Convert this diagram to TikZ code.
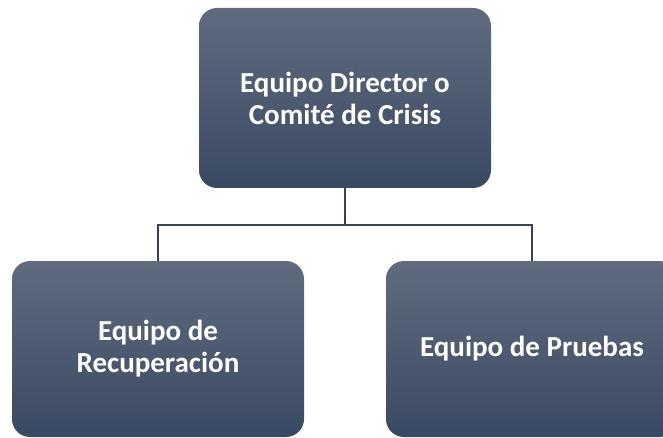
\documentclass[tikz,border=0pt]{standalone}
\usepackage{fontspec}
\setmainfont{Carlito}
\definecolor{boxtop}{RGB}{96,107,126}
\definecolor{boxbot}{RGB}{58,73,99}
\definecolor{linecol}{RGB}{55,66,86}
\begin{document}
\begin{tikzpicture}[x=1pt,y=-1pt,
    team/.style={rounded corners=18pt, top color=boxtop, bottom color=boxbot,
      draw=none, inner sep=0pt, minimum width=292pt, align=center,
      text=white, font=\fontsize{29}{32}\selectfont\bfseries},
    link/.style={draw=linecol, line width=1.2pt}]
    \useasboundingbox (0,0) rectangle (663,438);
    \clip (0,0) rectangle (663,438);
    \node[team, minimum height=180pt] (m) at (345,98) {Equipo Director o\\Comité de Crisis};
    \node[team, minimum height=176pt] (l) at (158,349) {Equipo de\\Recuperación};
    \node[team, minimum height=176pt] (r) at (532,349) {Equipo de Pruebas};
    \coordinate (j) at (345,225);

    \draw[link] (m.south) -- (j) -| (l.north);
    \draw[link] (j) -| (r.north);
  \end{tikzpicture}
\end{document}
